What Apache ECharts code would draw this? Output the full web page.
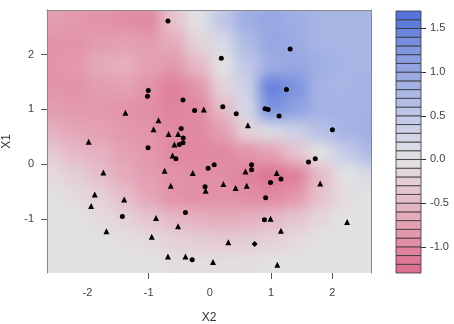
<!DOCTYPE html>
<html>
<head>
<meta charset="utf-8">
<script src="https://cdn.jsdelivr.net/npm/echarts@6/dist/echarts.min.js"></script>
<style>
  html, body { margin: 0; padding: 0; background: #fff; }
  #wrap { position: absolute; left: 47px; top: 10px; width: 324px; height: 263px; overflow: hidden; }
  #field { position: absolute; left: -47px; top: -10px; width: 454px; height: 324px; filter: blur(7px); }
  #main { position: absolute; left: 0; top: 0; width: 454px; height: 324px; }
</style>
</head>
<body>
<div id="wrap"><div id="field"></div></div>
<div id="main"></div>
<script>
// grid of the smoothed surface (cell centres)
const gridX = [-2.6, -2.2, -1.8, -1.4, -1.0, -0.6, -0.2, 0.2, 0.6, 1.0, 1.4, 1.8, 2.2, 2.6];
const gridY = [2.6, 2.2, 1.8, 1.4, 1.0, 0.6, 0.2, -0.2, -0.6, -1.0, -1.4, -1.8];

// surface values, one row per gridY
const rowY26 = [-0.8, -0.85, -0.9, -0.95, -1.0, -0.4, 0.0, 0.5, 0.9, 1.0, 0.9, 0.8, 0.8, 0.8];
const rowY22 = [-0.9, -0.9, -0.8, -0.75, -0.8, -0.65, -0.2, 0.15, 0.7, 1.0, 0.95, 0.8, 0.8, 0.8];
const rowY18 = [-0.9, -0.85, -0.65, -0.6, -0.75, -0.85, -0.5, 0.0, 0.5, 0.9, 1.0, 0.9, 0.8, 0.8];
const rowY14 = [-0.9, -0.9, -0.8, -0.75, -0.9, -1.1, -0.9, -0.2, 0.3, 1.5, 1.3, 0.8, 0.8, 0.85];
const rowY10 = [-0.8, -0.85, -0.85, -0.9, -0.95, -1.05, -1.0, -0.5, 0.2, 1.3, 1.1, 0.85, 0.85, 0.85];
const rowY06 = [-0.6, -0.7, -0.75, -0.85, -0.9, -1.0, -1.0, -0.8, -0.2, 0.1, 0.3, 0.6, 0.8, 0.9];
const rowY02 = [-0.3, -0.5, -0.6, -0.75, -0.85, -1.0, -1.0, -1.0, -0.9, -0.75, -0.4, 0.0, 0.4, 0.7];
const rowYm02 = [-0.1, -0.25, -0.45, -0.65, -0.8, -0.9, -0.95, -0.95, -1.05, -1.2, -1.1, -0.5, 0.0, 0.15];
const rowYm06 = [0.0, -0.1, -0.2, -0.45, -0.7, -0.9, -0.95, -0.9, -0.95, -1.0, -0.85, -0.4, -0.1, 0.0];
const rowYm10 = [0.0, 0.0, -0.1, -0.2, -0.35, -0.5, -0.6, -0.65, -0.6, -0.5, -0.35, -0.15, 0.0, 0.0];
const rowYm14 = [0.0, 0.0, 0.0, -0.05, -0.1, -0.2, -0.25, -0.3, -0.25, -0.2, -0.1, 0.0, 0.0, 0.0];
const rowYm18 = [0.0, 0.0, 0.0, 0.0, 0.0, -0.05, -0.05, -0.05, -0.05, 0.0, 0.0, 0.0, 0.0, 0.0];
const fieldRows = [rowY26, rowY22, rowY18, rowY14, rowY10, rowY06, rowY02, rowYm02, rowYm06, rowYm10, rowYm14, rowYm18];

// observations [X2, X1]
const triangles = [
  [-1.38, 0.94], [-0.84, 0.80], [-0.92, 0.64], [-0.675, 0.55], [-0.52, 0.55], [-0.10, 1.00],
  [0.62, 0.71], [-1.98, 0.41], [-0.58, 0.36], [-0.61, 0.16], [-1.74, -0.15], [-0.74, -0.12],
  [-0.28, -0.16], [-0.64, -0.39], [-0.07, -0.48], [0.22, -0.36], [0.42, -0.43], [-1.88, -0.55],
  [-1.40, -0.64], [-1.94, -0.76], [-0.88, -0.98], [-0.52, -1.13], [-1.69, -1.22], [-0.95, -1.32],
  [0.30, -1.42], [-0.685, -1.68], [-0.40, -1.68], [0.05, -1.78], [0.58, -0.13], [1.09, -0.16],
  [1.80, -0.35], [0.60, -0.39], [0.99, -0.99], [1.16, -1.21], [2.24, -1.05], [1.10, -1.83]
];
const circles = [
  [-0.685, 2.61], [0.186, 1.93], [1.31, 2.10], [-1.006, 1.345], [-1.02, 1.24], [-0.44, 1.17],
  [-0.25, 0.98], [0.21, 1.05], [0.43, 0.92], [1.25, 1.36], [0.90, 1.01], [0.95, 1.00],
  [1.13, 0.88], [2.0, 0.63], [-0.47, 0.65], [-0.435, 0.48], [-0.50, 0.36], [-0.44, 0.39],
  [-1.01, 0.30], [-0.555, 0.10], [-0.03, -0.07], [0.07, -0.01], [-0.08, -0.41], [-1.43, -0.95],
  [-0.40, -0.88], [-0.29, -1.74], [0.68, -0.01], [0.68, -0.10], [0.99, -0.33], [1.16, -0.27],
  [1.61, 0.04], [1.72, 0.10], [0.91, -0.61], [0.89, -1.01]
];
const diamonds = [[0.73, -1.45]];

// colour key
const keyLevels = [-1.3, -1.2, -1.1, -1.0, -0.9, -0.8, -0.7, -0.6, -0.5, -0.4, -0.3, -0.2, -0.1, 0.0,
  0.1, 0.2, 0.3, 0.4, 0.5, 0.6, 0.7, 0.8, 0.9, 1.0, 1.1, 1.2, 1.3, 1.4, 1.5, 1.6, 1.7];
const keyTicks = [-1.0, -0.5, 0.0, 0.5, 1.0, 1.5];
const xTickLabels = [-2, -1, 0, 1, 2];
const xTicks = [-1, 1, 2];
const yTickLabels = [-1, 0, 1, 2];

const X_MIN = -2.66, X_MAX = 2.63, Y_MIN = -1.98, Y_MAX = 2.81;
const STEP = 0.4;
const palette = ['#d2517a', '#dc6e8e', '#e398ad', '#e6c0cb', '#e2e2e3', '#c6cce8', '#a3b1e4', '#7f95df', '#4f6ed9'];
const plotGrid = { left: 47, top: 10, width: 324, height: 263, outerBoundsMode: 'none' };
const font = 'Liberation Sans, Arial, sans-serif';

// ---- surface (blurred layer under the plot) ----
const fieldData = [];
fieldRows.forEach((row, r) => {
  row.forEach((v, c) => fieldData.push([gridX[c], gridY[r], v]));
});

const field = echarts.init(document.getElementById('field'));
field.setOption({
  animation: false,
  grid: plotGrid,
  xAxis: { type: 'value', min: X_MIN, max: X_MAX, show: false },
  yAxis: { type: 'value', min: Y_MIN, max: Y_MAX, show: false },
  visualMap: {
    show: false, type: 'continuous', dimension: 2, min: -1.7, max: 1.7,
    inRange: { color: palette }
  },
  series: [{
    type: 'custom',
    clip: false,
    data: fieldData,
    renderItem(params, api) {
      const x = api.value(0), y = api.value(1);
      let x0 = x - STEP / 2, x1 = x + STEP / 2, y0 = y - STEP / 2, y1 = y + STEP / 2;
      // outer cells run past the plot edge so the blur does not fade there
      if (x === gridX[0]) x0 -= 1;
      if (x === gridX[gridX.length - 1]) x1 += 1;
      if (y === gridY[0]) y1 += 1;
      if (y === gridY[gridY.length - 1]) y0 -= 1;
      const p0 = api.coord([x0, y1]);
      const p1 = api.coord([x1, y0]);
      return {
        type: 'rect',
        shape: { x: p0[0], y: p0[1], width: p1[0] - p0[0] + 1, height: p1[1] - p0[1] + 1 },
        style: { fill: api.visual('color') }
      };
    }
  }]
});

// ---- axes, points and key ----
const keyBands = [];
for (let i = 0; i < keyLevels.length - 1; i++) {
  keyBands.push([keyLevels[i], keyLevels[i + 1], (keyLevels[i] + keyLevels[i + 1]) / 2]);
}

const labelStyle = { fontFamily: font, fontSize: 11, color: '#444' };
const frameLine = { show: true, onZero: false, lineStyle: { color: '#888' } };
const chart = echarts.init(document.getElementById('main'));
chart.setOption({
  animation: false,
  textStyle: { fontFamily: font },
  grid: [
    plotGrid,
    { left: 396, top: 11, width: 25, height: 262, outerBoundsMode: 'none' }
  ],
  xAxis: [
    {
      type: 'value', gridIndex: 0, min: X_MIN, max: X_MAX,
      name: 'X2', nameLocation: 'middle', nameGap: 39,
      nameTextStyle: { fontFamily: font, fontSize: 12, color: '#333' },
      axisLine: { show: false, onZero: false },
      axisTick: { show: true, length: 6, customValues: xTicks, lineStyle: { color: '#555' } },
      axisLabel: { ...labelStyle, margin: 14, customValues: xTickLabels },
      splitLine: { show: false }
    },
    {
      type: 'value', gridIndex: 0, min: X_MIN, max: X_MAX, position: 'top',
      axisLine: frameLine,
      axisTick: { show: false }, axisLabel: { show: false }, splitLine: { show: false }
    },
    { type: 'value', gridIndex: 1, min: 0, max: 1, show: false }
  ],
  yAxis: [
    {
      type: 'value', gridIndex: 0, min: Y_MIN, max: Y_MAX,
      name: 'X1', nameLocation: 'middle', nameGap: 34, nameRotate: 90,
      nameTextStyle: { fontFamily: font, fontSize: 12, color: '#333' },
      axisLine: frameLine,
      axisTick: { show: true, length: 6, customValues: yTickLabels, lineStyle: { color: '#555' } },
      axisLabel: { ...labelStyle, margin: 13, customValues: yTickLabels },
      splitLine: { show: false }
    },
    {
      type: 'value', gridIndex: 0, min: Y_MIN, max: Y_MAX, position: 'right',
      axisLine: frameLine,
      axisTick: { show: false }, axisLabel: { show: false }, splitLine: { show: false }
    },
    {
      type: 'value', gridIndex: 1, min: -1.3, max: 1.7, position: 'right',
      axisLine: { show: false, onZero: false },
      axisTick: { show: true, length: 5, customValues: keyTicks, lineStyle: { color: '#333' } },
      axisLabel: { ...labelStyle, margin: 9, customValues: keyTicks, formatter: v => v.toFixed(1) },
      splitLine: { show: false }
    }
  ],
  visualMap: {
    show: false, type: 'continuous', seriesIndex: 3, dimension: 2, min: -1.7, max: 1.7,
    inRange: { color: palette }
  },
  series: [
    {
      type: 'scatter', xAxisIndex: 0, yAxisIndex: 0, data: triangles,
      symbol: 'triangle', symbolSize: 6, itemStyle: { color: '#000', opacity: 1 }
    },
    {
      type: 'scatter', xAxisIndex: 0, yAxisIndex: 0, data: circles,
      symbol: 'circle', symbolSize: 5, itemStyle: { color: '#000', opacity: 1 }
    },
    {
      type: 'scatter', xAxisIndex: 0, yAxisIndex: 0, data: diamonds,
      symbol: 'diamond', symbolSize: 6, itemStyle: { color: '#000', opacity: 1 }
    },
    {
      type: 'custom', xAxisIndex: 2, yAxisIndex: 2, data: keyBands,
      renderItem(params, api) {
        const p0 = api.coord([0, api.value(1)]);
        const p1 = api.coord([1, api.value(0)]);
        return {
          type: 'rect',
          shape: { x: p0[0], y: p0[1], width: p1[0] - p0[0], height: p1[1] - p0[1] },
          style: { fill: api.visual('color'), stroke: '#333', lineWidth: 0.8 }
        };
      }
    }
  ]
});
</script>
</body>
</html>
